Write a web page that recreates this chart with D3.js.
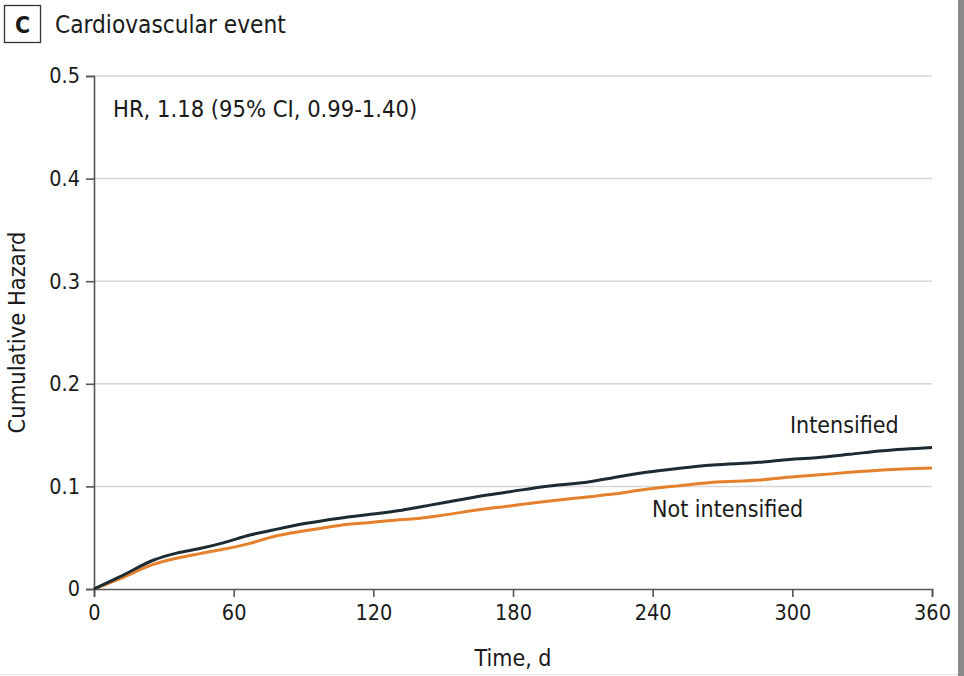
<!DOCTYPE html>
<html>
<head>
<meta charset="utf-8">
<script src="https://cdn.jsdelivr.net/npm/d3@7"></script>
<style>
  body { margin: 0; background: #fff; }
  svg text { font-family: "Liberation Sans Narrow", "DejaVu Sans Condensed", "Open Sans", sans-serif; fill: #1a1a1a; }
</style>
</head>
<body>
<div id="chart"></div>
<script>
// data (days, cumulative hazard)
var days = [0, 12.6, 25.4, 35.5, 45.5, 55.5, 67, 76.9, 91.2, 105.5, 119.8, 131.3, 140, 150.1, 164.4, 178.7, 193, 213, 223, 237.3, 251.6, 265.9, 286, 296, 310.3, 324.6, 338.9, 360];
var intensified = [0, 0.0136, 0.028, 0.035, 0.0395, 0.045, 0.0526, 0.0575, 0.064, 0.069, 0.073, 0.0765, 0.080, 0.084, 0.090, 0.0948, 0.0997, 0.1046, 0.1085, 0.1137, 0.1176, 0.1208, 0.1235, 0.1257, 0.128, 0.1313, 0.1348, 0.138];
var notIntensified = [0, 0.0114, 0.024, 0.030, 0.0345, 0.0387, 0.0445, 0.0510, 0.0570, 0.0620, 0.0650, 0.0675, 0.069, 0.072, 0.077, 0.081, 0.085, 0.090, 0.0926, 0.0972, 0.1007, 0.104, 0.1062, 0.1085, 0.111, 0.1137, 0.116, 0.118];
var xTicks = [0, 60, 120, 180, 240, 300, 360];
var yTicks = [0, 0.1, 0.2, 0.3, 0.4, 0.5];

var chart = {};

chart.width = 964;
chart.height = 676;
chart.margin = {left: 94, right: 32, top: 76, bottom: 87};

chart.init = function(){

    chart.svg = d3.select("#chart").append("svg")
        .attr("width", chart.width)
        .attr("height", chart.height);

    chart.x = d3.scaleLinear().domain([0, 360])
        .range([chart.margin.left, chart.width - chart.margin.right]);
    chart.y = d3.scaleLinear().domain([0, 0.5])
        .range([chart.height - chart.margin.bottom, chart.margin.top]);

    // panel label and title
    chart.svg.append("rect")
        .attr("x", 4.5).attr("y", 5.5).attr("width", 36).attr("height", 37)
        .attr("fill", "none").attr("stroke", "#333").attr("stroke-width", 1.3);
    chart.svg.append("text")
        .attr("x", 22.5).attr("y", 33).attr("text-anchor", "middle")
        .style("font-size", "23px").style("font-weight", "bold")
        .text("C");
    chart.svg.append("text")
        .attr("x", 55).attr("y", 33)
        .style("font-size", "24.2px")
        .text("Cardiovascular event");
};

chart.render = function(){

    var x = chart.x, y = chart.y;

    // gridlines
    chart.svg.append("g").selectAll("line")
        .data(yTicks.filter(function(d){ return d > 0; }))
        .enter().append("line")
        .attr("x1", x(0)).attr("x2", x(360))
        .attr("y1", function(d){ return y(d); })
        .attr("y2", function(d){ return y(d); })
        .attr("stroke", "#d6d6d6").attr("stroke-width", 1.5);

    // axes
    var yAxis = chart.svg.append("g")
        .attr("transform", "translate(" + x(0) + ",0)")
        .call(d3.axisLeft(y).tickValues(yTicks).tickSize(8).tickPadding(6)
            .tickFormat(function(d){ return d === 0 ? "0" : d3.format(".1f")(d); }));
    var xAxis = chart.svg.append("g")
        .attr("transform", "translate(0," + y(0) + ")")
        .call(d3.axisBottom(x).tickValues(xTicks).tickSize(8).tickPadding(8));

    [xAxis, yAxis].forEach(function(a){
        a.select(".domain").attr("stroke", "#555").attr("stroke-width", 1.6);
        a.selectAll(".tick line").attr("stroke", "#555").attr("stroke-width", 1.6);
        a.selectAll(".tick text").style("font-size", "21.5px").attr("fill", "#1a1a1a")
            .style("font-family", "\"Liberation Sans Narrow\", \"DejaVu Sans Condensed\", sans-serif");
    });

    // axis titles
    chart.svg.append("text")
        .attr("x", x(180)).attr("y", 666).attr("text-anchor", "middle")
        .style("font-size", "23px")
        .text("Time, d");
    chart.svg.append("text")
        .attr("transform", "translate(25," + y(0.25) + ") rotate(-90)")
        .attr("text-anchor", "middle")
        .style("font-size", "23.5px")
        .text("Cumulative Hazard");

    // curves
    var series = [
        {name: "Not intensified", values: notIntensified, color: "#e5812c"},
        {name: "Intensified", values: intensified, color: "#1c2b32"}
    ];
    var line = d3.line()
        .curve(d3.curveMonotoneX)
        .x(function(d){ return x(d[0]); })
        .y(function(d){ return y(d[1]); });

    series.forEach(function(s){
        chart.svg.append("path")
            .datum(days.map(function(d, i){ return [d, s.values[i]]; }))
            .attr("fill", "none")
            .attr("stroke", s.color)
            .attr("stroke-width", 3)
            .attr("stroke-linejoin", "round")
            .attr("d", line);
    });

    // labels
    chart.svg.append("text")
        .attr("x", 790).attr("y", 433)
        .style("font-size", "23px")
        .text("Intensified");
    chart.svg.append("text")
        .attr("x", 652).attr("y", 517)
        .style("font-size", "23px")
        .text("Not intensified");
    chart.svg.append("text")
        .attr("x", 113).attr("y", 117)
        .style("font-size", "23.5px")
        .text("HR, 1.18 (95% CI, 0.99-1.40)");

    // frame edges of the scanned page
    chart.svg.append("rect")
        .attr("x", 958).attr("y", 0).attr("width", 6).attr("height", chart.height)
        .attr("fill", "#8a8a8a");
    chart.svg.append("line")
        .attr("x1", 0).attr("x2", 958).attr("y1", 674.5).attr("y2", 674.5)
        .attr("stroke", "#e2e2e2").attr("stroke-width", 1);
};

chart.init();
chart.render();
</script>
</body>
</html>
